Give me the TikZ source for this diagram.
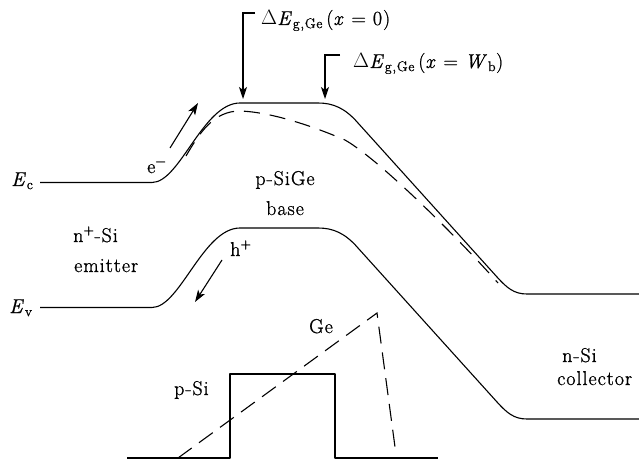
\documentclass[tikz,border=0pt]{standalone}
\usepackage{fontspec}
\setmainfont{Latin Modern Roman}[LetterSpace=5, FakeBold=1]
\usetikzlibrary{arrows.meta}
\newcommand{\minus}{\textsuperscript{\char"2212}}
\newcommand{\plus}{\textsuperscript{+}}
\tikzset{
  band/.style={line width=1.1pt, line join=round},
  dashband/.style={line width=1.1pt, dash pattern=on 16pt off 10pt},
  tip/.style={line width=1.1pt, -{Stealth[length=12pt,width=8pt,inset=3pt]}},
  lbl/.style={inner sep=0pt, font=\fontsize{20}{24}\selectfont}
}
\begin{document}
\begin{tikzpicture}[x=1pt,y=-1pt]
\path[use as bounding box] (0,0) rectangle (639,462);

% conduction band
\draw[band] (40,182.5) -- (152,182.5) .. controls (180,182.5) and (203,103) .. (240,103)
  -- (318,103) .. controls (333,103) and (345,108) .. (358,123)
  -- (497,277) .. controls (507,288) and (514,294) .. (527,294) -- (639,294);
% graded conduction band (dashed)
\draw[dashband] (186,156) .. controls (200,132) and (214,111) .. (240,111)
  .. controls (270,112) and (310,125) .. (345,140)
  .. controls (380,160) and (460,240) .. (498,283);
% valence band
\draw[band] (40,307.5) -- (152,307.5) .. controls (180,307.5) and (203,228) .. (240,228)
  -- (318,228) .. controls (333,228) and (345,233) .. (358,248)
  -- (497,402) .. controls (507,413) and (514,419) .. (527,419) -- (639,419);

% labels of bands
\node[lbl, anchor=base west] (ec) at (11,186) {\textit{E}\textsubscript{c}};
\node[lbl, anchor=base west] (ev) at (9,313) {\textit{E}\textsubscript{v}};

% Delta E labels with arrows
\coordinate (a1t) at (255,13);
\coordinate (a1c) at (243,13);
\coordinate (a1e) at (243,99);
\draw[tip] (a1t) -- (a1c) -- (a1e);
\node[lbl, anchor=base west] (d1) at (261,25) {$\Delta$\textit{E}\textsubscript{g,Ge}\,(\textit{x} = 0)};
\coordinate (a2t) at (340,55);
\coordinate (a2c) at (325,55);
\coordinate (a2e) at (325,99);
\draw[tip] (a2t) -- (a2c) -- (a2e);
\node[lbl, anchor=base west] (d2) at (353,68) {$\Delta$\textit{E}\textsubscript{g,Ge}\,(\textit{x} = \textit{W}\textsubscript{b})};

% carriers
\coordinate (es) at (170,148);
\coordinate (ee) at (198,103);
\draw[tip] (es) -- (ee);
\node[lbl, anchor=base west] (el) at (147,173) {e\minus};
\coordinate (hs) at (222,260);
\coordinate (he) at (195,302);
\draw[tip] (hs) -- (he);
\node[lbl, anchor=base west] (hl) at (230,256) {h\plus};

% region labels
\node[lbl, anchor=base west] (em1) at (73,242) {n\plus-Si};
\node[lbl, anchor=base west] (em2) at (74,272) {emitter};
\node[lbl, anchor=base] (b1) at (285,185) {p-SiGe};
\node[lbl, anchor=base] (b2) at (285,215) {base};
\node[lbl, anchor=base west] (c1) at (562,362) {n-Si};
\node[lbl, anchor=base west] (c2) at (557,385) {collector};

% doping / Ge profile
\draw[band] (127,458) -- (230,458) -- (230,374) -- (335,374) -- (335,458) -- (438,458);
\draw[dashband, dash pattern=on 17pt off 9pt] (178,458) -- (377,313) -- (395,447);
\node[lbl, anchor=base] (ge) at (321,333) {Ge};
\node[lbl, anchor=base west] (psi) at (174,395) {p-Si};
\end{tikzpicture}
\end{document}
